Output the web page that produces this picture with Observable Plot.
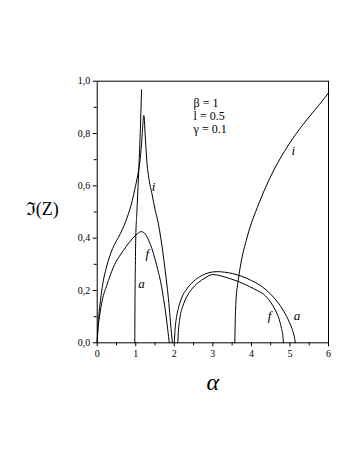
<!DOCTYPE html>
<html><head><meta charset="utf-8">
<script src="https://cdn.jsdelivr.net/npm/d3@7"></script>
<script src="https://cdn.jsdelivr.net/npm/@observablehq/plot@0.6"></script>
<style>body{margin:0;background:#fff} svg text{font-family:"Liberation Serif","Times New Roman",serif !important}</style>
</head><body><div id="chart"></div>
<script>
// curve i, first and second branch (alpha, Im Z)
const iLeft = [[0,0],[0.01,0.04],[0.04,0.1],[0.085,0.162],[0.15,0.23],[0.24,0.289],[0.4,0.36],[0.6,0.417],[0.78,0.48],[0.91,0.544],[0.98,0.59],[1.05,0.64],[1.1,0.684],[1.15,0.76],[1.21,0.869],[1.25,0.78],[1.29,0.69],[1.35,0.62],[1.42,0.57],[1.5,0.51],[1.58,0.46],[1.65,0.40],[1.7,0.35],[1.76,0.28],[1.81,0.22],[1.86,0.15],[1.9,0.08],[1.93,0.03],[1.95,0]];
const iRight = [[3.57,0],[3.58,0.08],[3.6,0.16],[3.65,0.23],[3.71,0.289],[3.89,0.404],[4.19,0.531],[4.53,0.645],[4.85,0.73],[5.14,0.795],[5.45,0.855],[5.76,0.91],[6.0,0.955]];
const fLeft = [[0,0],[0.02,0.05],[0.06,0.1],[0.13,0.162],[0.25,0.22],[0.42,0.289],[0.68,0.353],[0.95,0.404],[1.05,0.418],[1.14,0.425],[1.25,0.415],[1.34,0.39],[1.42,0.36],[1.5,0.32],[1.57,0.28],[1.65,0.23],[1.72,0.17],[1.78,0.11],[1.83,0.05],[1.87,0]];
const fRight = [[2.09,0],[2.11,0.05],[2.15,0.1],[2.22,0.14],[2.32,0.175],[2.45,0.205],[2.62,0.23],[2.8,0.248],[3.0,0.261],[3.2,0.256],[3.45,0.245],[3.7,0.232],[3.95,0.215],[4.15,0.2],[4.32,0.185],[4.5,0.155],[4.62,0.125],[4.72,0.09],[4.78,0.055],[4.82,0.02],[4.83,0]];
const aLeft = [[0.975,0],[0.98,0.15],[0.99,0.3],[1.0,0.4],[1.03,0.5],[1.06,0.6],[1.09,0.7],[1.12,0.82],[1.15,0.967]];
const aRight = [[2.0,0],[2.02,0.05],[2.06,0.1],[2.12,0.14],[2.2,0.175],[2.32,0.205],[2.5,0.235],[2.7,0.256],[2.9,0.268],[3.1,0.272],[3.3,0.27],[3.5,0.265],[3.75,0.254],[4.0,0.238],[4.2,0.222],[4.4,0.2],[4.6,0.17],[4.8,0.13],[4.95,0.09],[5.05,0.055],[5.11,0.025],[5.14,0]];
const curveLabels = [
  {t:"i", x:1.46, y:0.598},{t:"f", x:1.3, y:0.34},{t:"a", x:1.15, y:0.227},
  {t:"i", x:5.09, y:0.735},{t:"f", x:4.47, y:0.104},{t:"a", x:5.18, y:0.104}
];
const params = [{t:"β = 1", y:0.915, it:false},{t:"l = 0.5", y:0.866, it:true},{t:"γ = 0.1", y:0.818, it:false}];
const xTicks = [0,1,2,3,4,5,6];
const xMinor = [0.5,1.5,2.5,3.5,4.5,5.5];
const yTicks = [0,0.2,0.4,0.6,0.8,1.0];
const yMinor = [0.1,0.3,0.5,0.7,0.9];
const fmt = d => d.toFixed(1).replace(".", ",");

const series = [iLeft, iRight, fLeft, fRight, aLeft, aRight];
const lineOpts = {x: d => d[0], y: d => d[1], stroke: "#000", strokeWidth: 1, curve: "monotone-x"};
const serif = "Liberation Serif, Times New Roman, serif";

const chart = Plot.plot({
  width: 357, height: 462,
  marginLeft: 96.7, marginRight: 29, marginTop: 80.7, marginBottom: 119.7,
  style: {fontFamily: serif, fontSize: "10px", color: "#000", background: "#fff"},
  x: {domain: [0, 6]},
  y: {domain: [0, 1]},
  marks: [
    ...series.map(s => Plot.line(s, lineOpts)),
    Plot.frame({stroke: "#000", strokeWidth: 1}),
    Plot.axisX(xTicks, {tickSize: 4, tickFormat: d => String(d), tickPadding: 3, label: null, fontSize: 10, fontFamily: serif}),
    Plot.axisX(xMinor, {tickSize: 3, text: null, label: null}),
    Plot.axisY(yTicks, {tickSize: 4, tickFormat: fmt, tickPadding: 3, label: null, fontSize: 10, fontFamily: serif}),
    Plot.axisY(yMinor, {tickSize: 3, text: null, label: null}),
    Plot.text(curveLabels, {x: "x", y: "y", text: "t", fontStyle: "italic", fontSize: 13, fill: "#000", fontFamily: serif}),
    Plot.text(params, {x: () => 2.5, y: "y", text: "t", textAnchor: "start", fontSize: 12, fill: "#000", fontFamily: serif, fontStyle: d => d.it ? "italic" : "normal"}),
    Plot.text(["α"], {frameAnchor: "bottom", textAnchor: "middle", lineAnchor: "middle", dy: 40, fontSize: 24, fontStyle: "italic", fill: "#000", fontFamily: serif}),
    Plot.text(["ℑ(Z)"], {frameAnchor: "left", textAnchor: "middle", lineAnchor: "middle", dx: -55, dy: -3, fontSize: 18, fill: "#000", fontFamily: serif})
  ]
});
document.getElementById("chart").appendChild(chart);
</script>
</body></html>
